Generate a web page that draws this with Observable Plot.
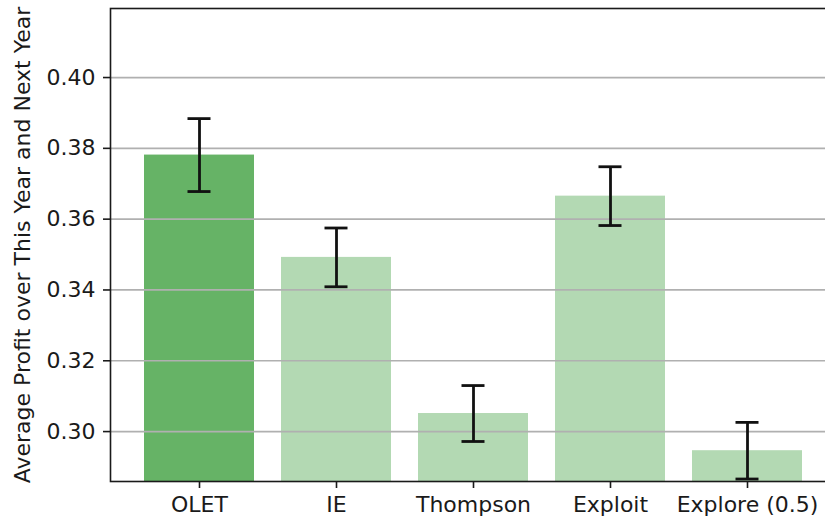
<!DOCTYPE html>
<html>
<head>
<meta charset="utf-8">
<script src="https://cdn.jsdelivr.net/npm/d3@7"></script>
<script src="https://cdn.jsdelivr.net/npm/@observablehq/plot@0.6"></script>
<style>
  html, body { margin: 0; padding: 0; background: #fff; overflow: hidden; }
</style>
</head>
<body>
<div id="chart"></div>
<script>
// Average profit per strategy, with standard-error half-widths
const methods = ["OLET", "IE", "Thompson", "Exploit", "Explore (0.5)"];
const meanProfit = [0.3781, 0.3492, 0.3051, 0.3665, 0.2946];
const stdError = [0.0103, 0.0083, 0.0079, 0.0083, 0.0080];
const highlighted = ["OLET"];
const yTicks = [0.30, 0.32, 0.34, 0.36, 0.38, 0.40];
const yLabel = "Average Profit over This Year and Next Year";

const rows = methods.map((method, i) => ({
  method,
  mean: meanProfit[i],
  lo: meanProfit[i] - stdError[i],
  hi: meanProfit[i] + stdError[i]
}));

const font = "DejaVu Sans, sans-serif";

const chart = Plot.plot({
  width: 837,
  height: 520,
  marginLeft: 110,
  marginRight: 1,
  marginTop: 8,
  marginBottom: 39,
  style: { fontFamily: font, fontSize: "22px", color: "#1a1a1a", background: "#fff", maxWidth: "none" },
  x: { domain: methods, paddingInner: 0.2, paddingOuter: 0.24, align: 0.5 },
  y: { domain: [0.2859, 0.4195] },
  marks: [
    Plot.barY(rows, {
      x: "method",
      y: "mean",
      clip: true,
      fill: d => highlighted.includes(d.method) ? "#66b366" : "#b3d9b3"
    }),
    Plot.ruleY(yTicks, { stroke: "#b0b0b0", strokeWidth: 1.7 }),
    Plot.ruleX(rows, { x: "method", y1: "lo", y2: "hi", stroke: "#111", strokeWidth: 2.8 }),
    Plot.tickY(rows, { x: "method", y: "lo", insetLeft: 43.5, insetRight: 43.5, stroke: "#111", strokeWidth: 2.8 }),
    Plot.tickY(rows, { x: "method", y: "hi", insetLeft: 43.5, insetRight: 43.5, stroke: "#111", strokeWidth: 2.8 }),
    Plot.axisY({ ticks: yTicks, tickFormat: d3.format(".2f"), tickSize: 7, tickPadding: 8, label: null, strokeWidth: 1.6, fontSize: 22 }),
    Plot.axisX({ tickSize: 7, tickPadding: 8, label: null, strokeWidth: 1.6, fontSize: 22 }),
    Plot.frame({ stroke: "#1a1a1a", strokeWidth: 1.6 }),
    Plot.text([yLabel], {
      text: d => d,
      frameAnchor: "left",
      textAnchor: "middle",
      lineAnchor: "middle",
      rotate: -90,
      dx: -88,
      fontSize: 22,
      fill: "#1a1a1a"
    })
  ]
});

document.getElementById("chart").appendChild(chart);
</script>
</body>
</html>
